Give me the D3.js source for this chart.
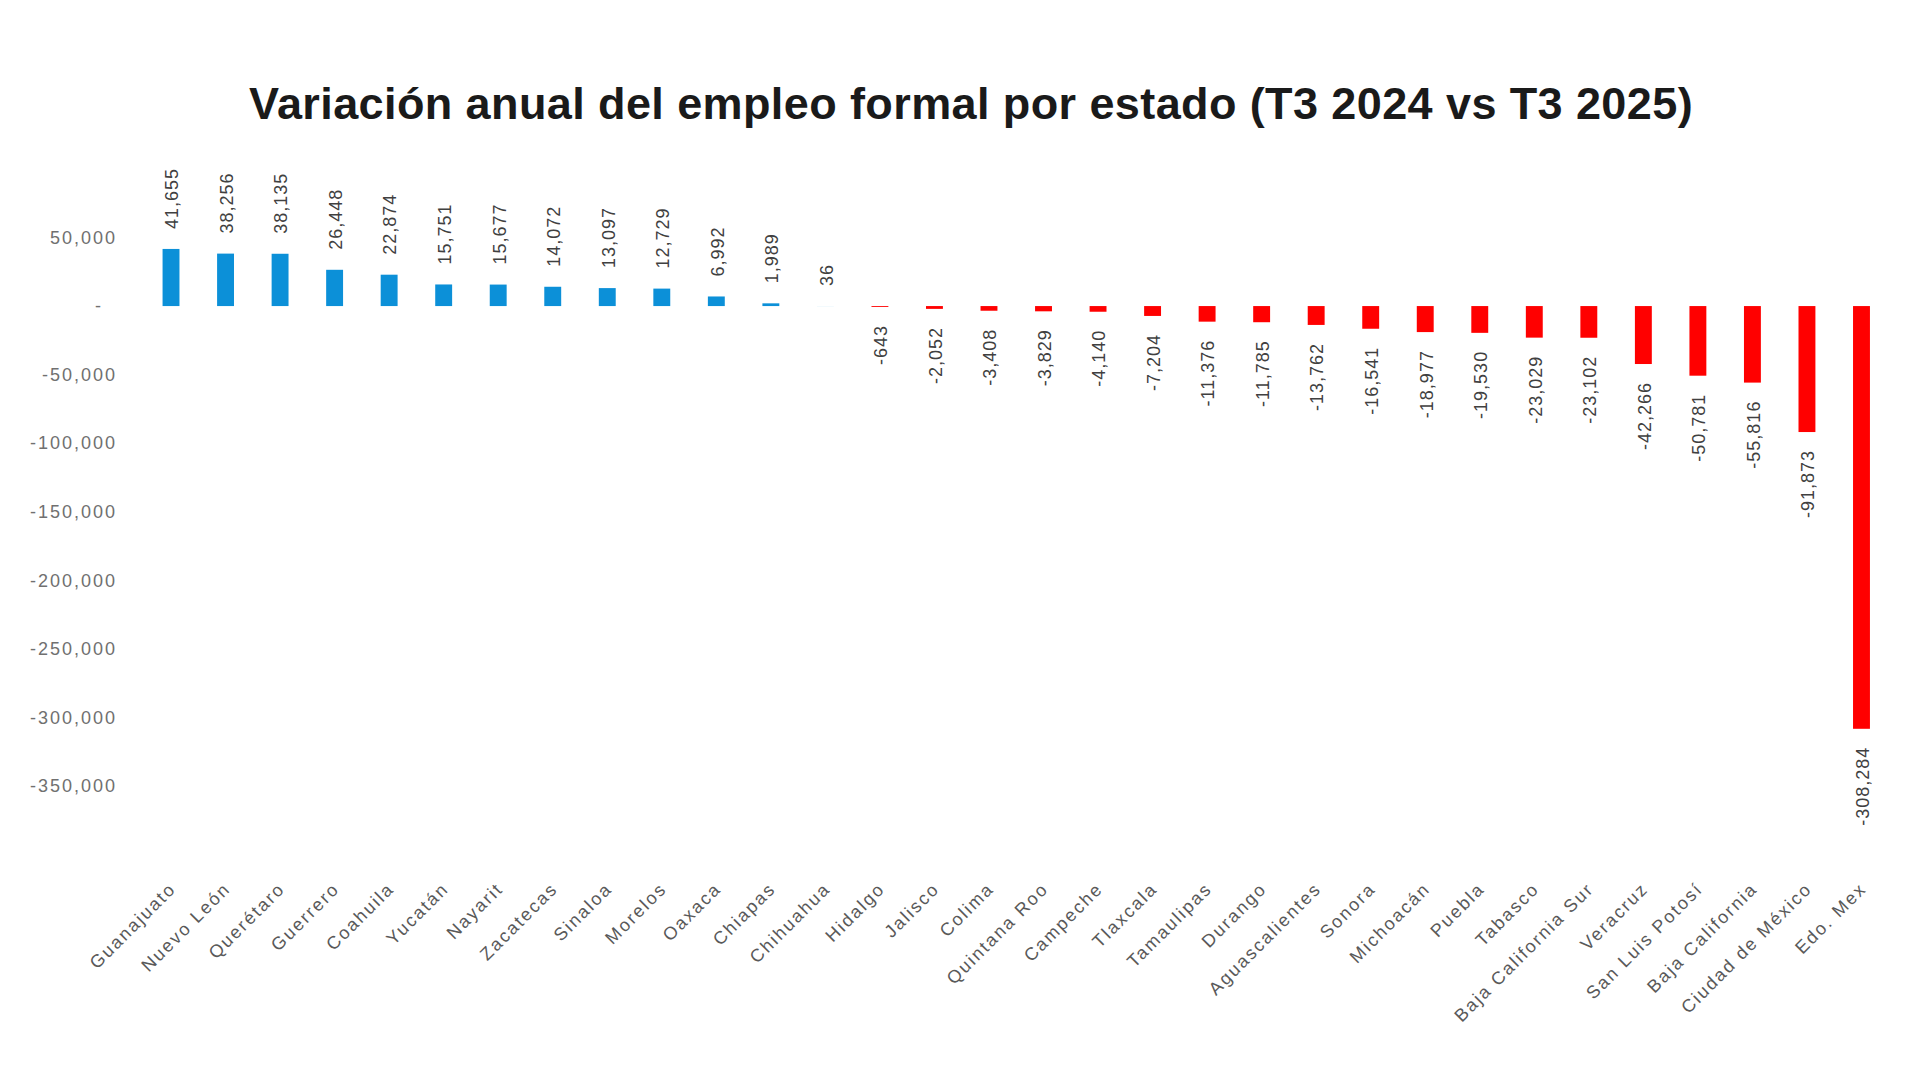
<!DOCTYPE html>
<html>
<head>
<meta charset="utf-8">
<script src="https://cdn.jsdelivr.net/npm/d3@7"></script>
<style>
  html, body { margin: 0; padding: 0; background: #fff; }
  svg { display: block; font-family: "Liberation Sans", Arial, sans-serif; }
</style>
</head>
<body>
<div id="chart"></div>
<script>
const title = "Variación anual del empleo formal por estado (T3 2024 vs T3 2025)";

const estados = [
  "Guanajuato", "Nuevo León", "Querétaro", "Guerrero", "Coahuila", "Yucatán",
  "Nayarit", "Zacatecas", "Sinaloa", "Morelos", "Oaxaca", "Chiapas",
  "Chihuahua", "Hidalgo", "Jalisco", "Colima", "Quintana Roo", "Campeche",
  "Tlaxcala", "Tamaulipas", "Durango", "Aguascalientes", "Sonora", "Michoacán",
  "Puebla", "Tabasco", "Baja California Sur", "Veracruz", "San Luis Potosí",
  "Baja California", "Ciudad de México", "Edo. Mex"
];

const variacion = [
  41655, 38256, 38135, 26448, 22874, 15751,
  15677, 14072, 13097, 12729, 6992, 1989,
  36, -643, -2052, -3408, -3829, -4140,
  -7204, -11376, -11785, -13762, -16541, -18977,
  -19530, -23029, -23102, -42266, -50781,
  -55816, -91873, -308284
];

const yTicks = [50000, 0, -50000, -100000, -150000, -200000, -250000, -300000, -350000];

const width = 1920;
const height = 1080;

const locale = d3.formatLocale({
  decimal: ".", thousands: ",", grouping: [3], currency: ["$", ""], minus: "-"
});
const fmt = locale.format(",");

const svg = d3.select("#chart")
  .append("svg")
  .attr("width", width)
  .attr("height", height);

// title
svg.append("text")
  .attr("x", 971)
  .attr("y", 119)
  .attr("text-anchor", "middle")
  .attr("font-size", 45)
  .attr("font-weight", "bold")
  .attr("letter-spacing", 0.4)
  .attr("fill", "#1a1a1a")
  .text(title);

const x = d3.scaleBand()
  .domain(estados)
  .range([143.75, 1888.75])
  .paddingInner(0.69)
  .paddingOuter(0.345);

const y = d3.scaleLinear()
  .domain([-350000, 50000])
  .range([786, 237.5]);

// y axis, labels only
const yAxis = svg.append("g")
  .attr("transform", "translate(126,0)")
  .call(d3.axisLeft(y)
    .tickValues(yTicks)
    .tickSize(0)
    .tickPadding(9)
    .tickFormat(d => d === 0 ? "-" : fmt(d)));

yAxis.select(".domain").remove();
yAxis.selectAll("text")
  .attr("font-family", "'Liberation Sans', Arial, sans-serif")
  .attr("font-size", 18)
  .attr("letter-spacing", 2)
  .attr("fill", "#707070")
  .attr("dx", d => d === 0 ? -14 : 0);

const data = estados.map((e, i) => ({ estado: e, valor: variacion[i] }));

// bars
svg.append("g")
  .selectAll("rect")
  .data(data)
  .join("rect")
  .attr("x", d => x(d.estado))
  .attr("width", x.bandwidth())
  .attr("y", d => y(Math.max(0, d.valor)))
  .attr("height", d => Math.abs(y(d.valor) - y(0)))
  .attr("fill", d => d.valor >= 0 ? "#0c90d8" : "#ff0000");

// value labels
svg.append("g")
  .selectAll("text")
  .data(data)
  .join("text")
  .attr("transform", d => {
    const cx = x(d.estado) + x.bandwidth() / 2 + 1;
    const cy = d.valor >= 0 ? y(d.valor) - 20 : y(d.valor) + 18;
    return `translate(${cx},${cy}) rotate(-90)`;
  })
  .attr("text-anchor", d => d.valor >= 0 ? "start" : "end")
  .attr("dy", "0.35em")
  .attr("font-size", 18)
  .attr("letter-spacing", 1)
  .attr("fill", "#404040")
  .text(d => fmt(d.valor));

// category labels
svg.append("g")
  .selectAll("text")
  .data(estados)
  .join("text")
  .attr("transform", d => `translate(${x(d) + x.bandwidth() / 2 + 6},${890}) rotate(-45)`)
  .attr("text-anchor", "end")
  .attr("font-size", 18)
  .attr("letter-spacing", 2)
  .attr("fill", "#595959")
  .text(d => d);
</script>
</body>
</html>
